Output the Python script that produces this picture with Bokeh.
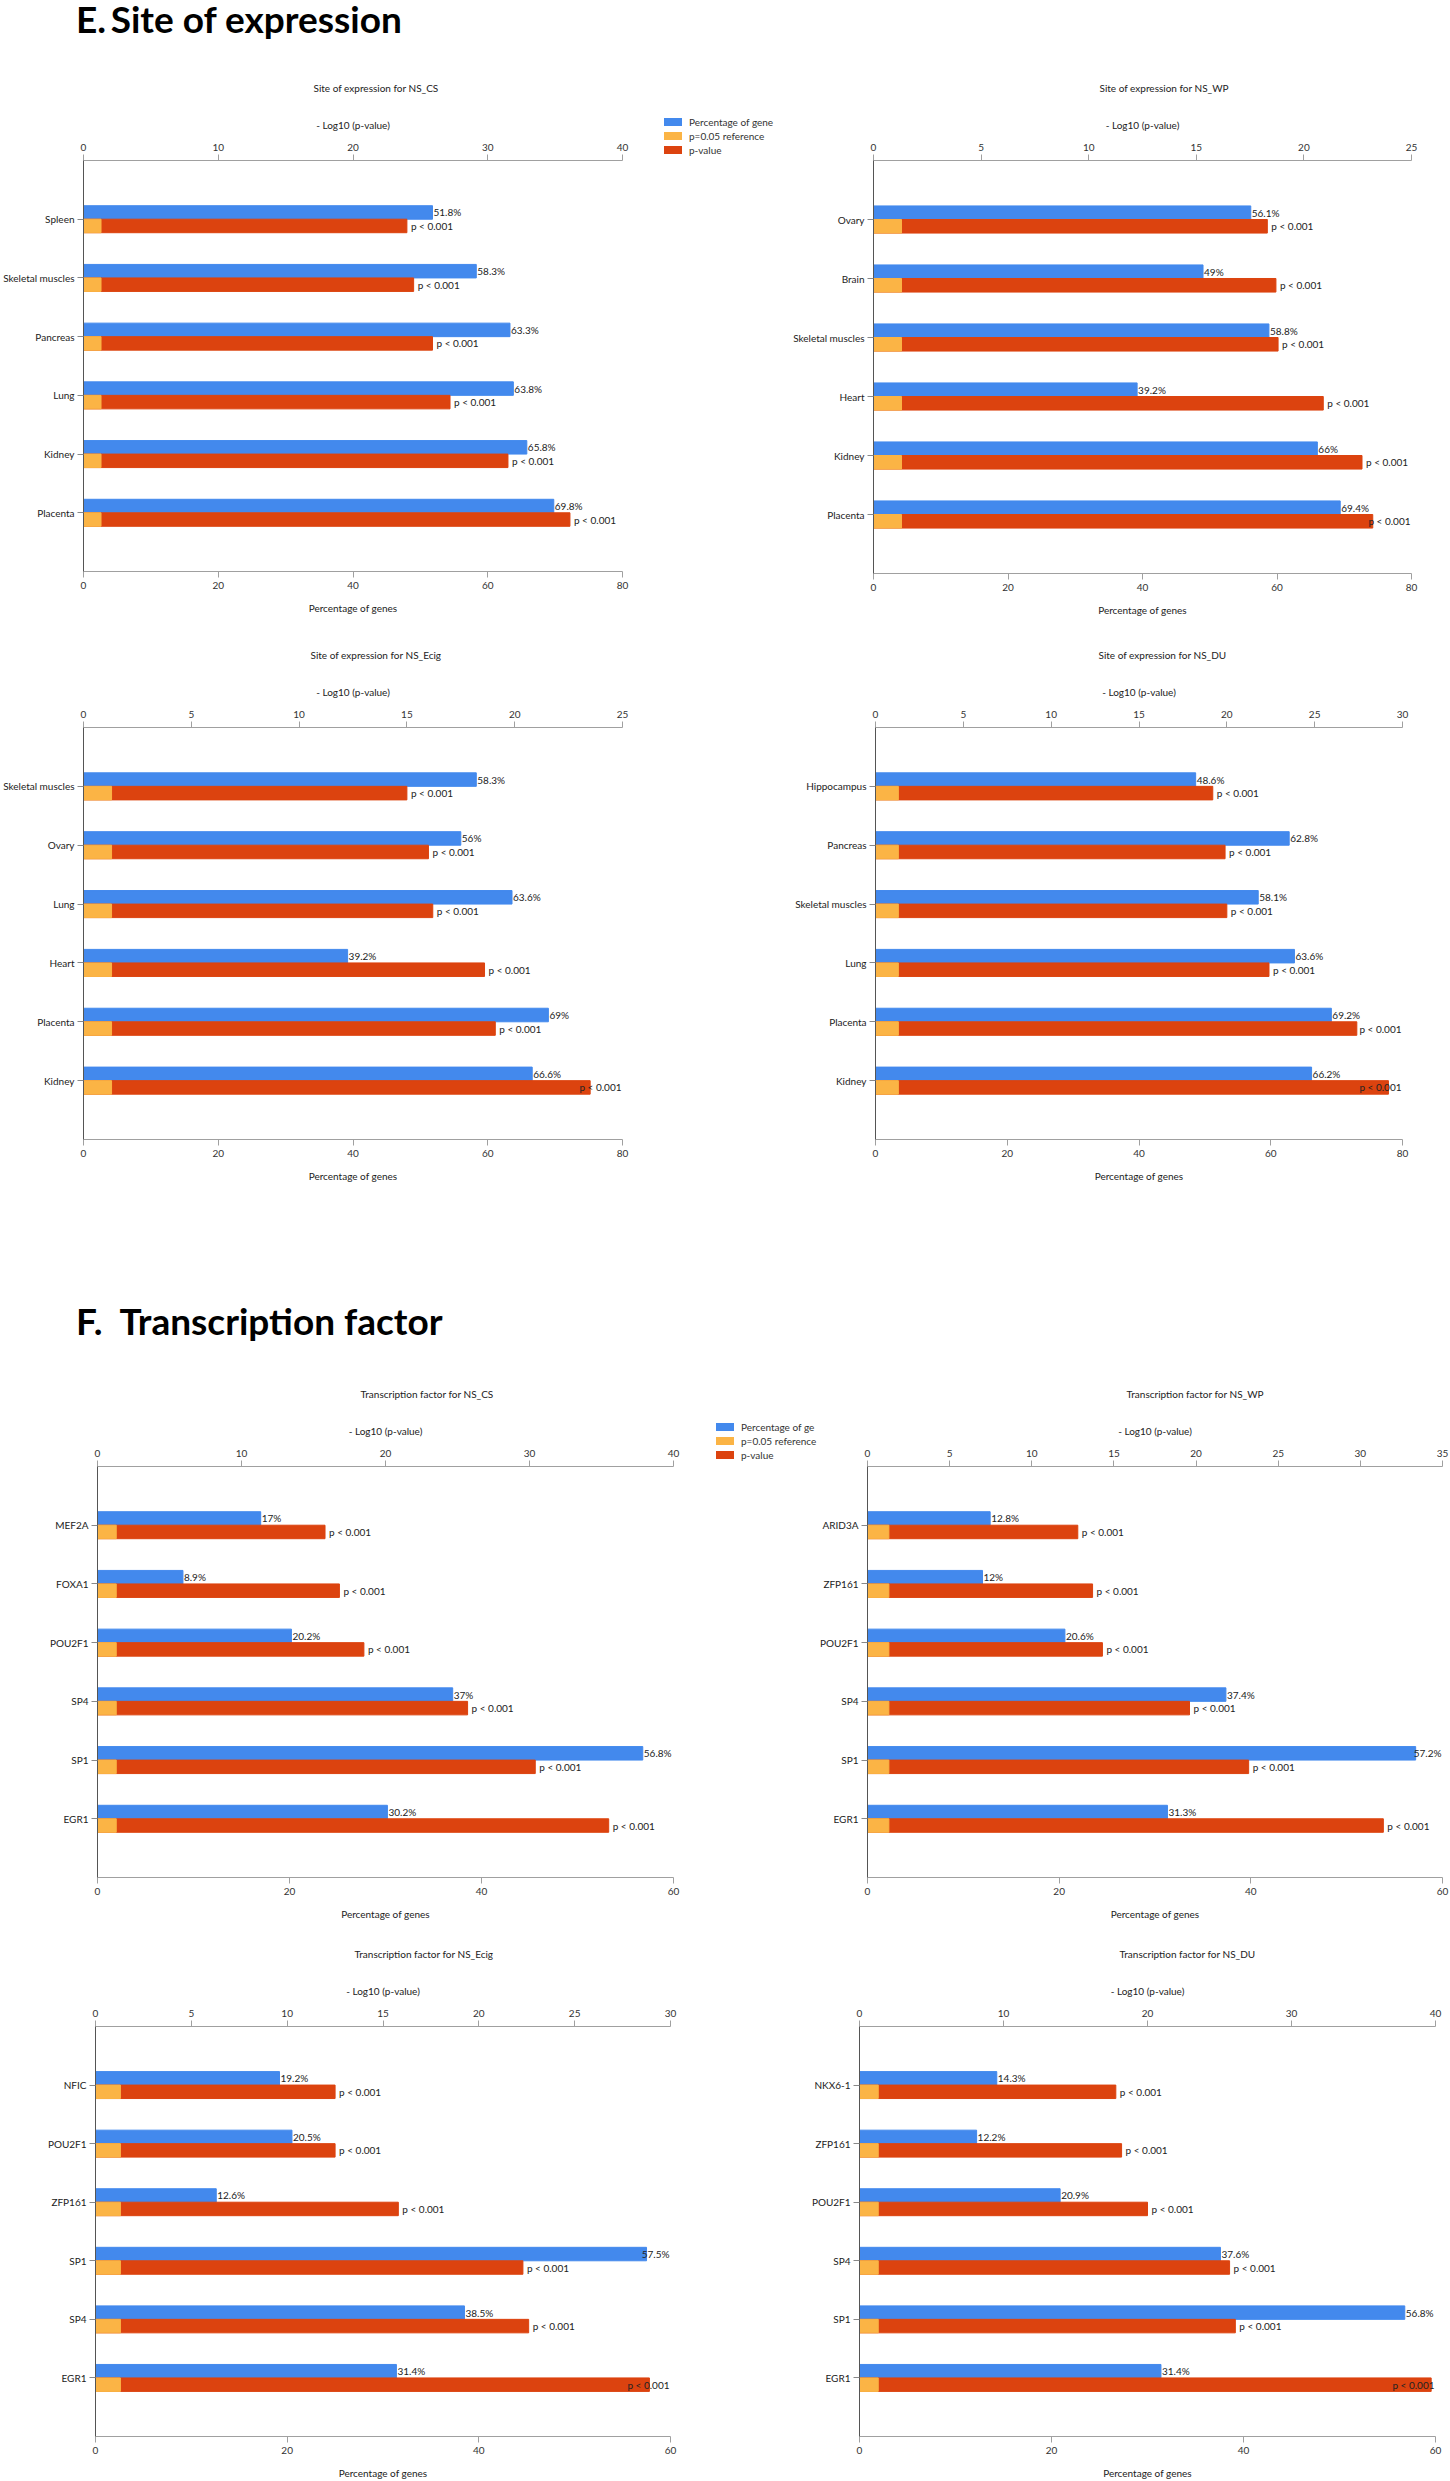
from bokeh.plotting import figure
from bokeh.models import (Range1d, FactorRange, LinearAxis, FixedTicker, ColumnDataSource, Div)
from bokeh.transform import dodge
from bokeh.layouts import column, row
from bokeh.core.properties import value
from bokeh.embed import file_html
from bokeh.resources import INLINE

FONT = "Lato"
BLUE, ORANGE, RED = "#4389ED", "#FBB445", "#DC430F"
P_REF = 1.301  # -log10(0.05)
P_LABEL = "p < 0.001"
LEGEND_LABELS_A = ["Percentage of gene", "p=0.05 reference", "p-value"]
LEGEND_LABELS_C = ["Percentage of ge", "p=0.05 reference", "p-value"]

# ---------------- E. Site of expression ----------------
site_cs_cats = ["Spleen", "Skeletal muscles", "Pancreas", "Lung", "Kidney", "Placenta"]
site_cs_pct = [51.8, 58.3, 63.3, 63.8, 65.8, 69.8]
site_cs_logp = [24.0, 24.5, 25.9, 27.2, 31.5, 36.1]
site_cs_pticks = [0, 10, 20, 30, 40]
site_cs_xticks = [0, 20, 40, 60, 80]

site_wp_cats = ["Ovary", "Brain", "Skeletal muscles", "Heart", "Kidney", "Placenta"]
site_wp_pct = [56.1, 49, 58.8, 39.2, 66, 69.4]
site_wp_logp = [18.3, 18.7, 18.8, 20.9, 22.7, 23.2]
site_wp_pticks = [0, 5, 10, 15, 20, 25]
site_wp_xticks = [0, 20, 40, 60, 80]

site_ecig_cats = ["Skeletal muscles", "Ovary", "Lung", "Heart", "Placenta", "Kidney"]
site_ecig_pct = [58.3, 56, 63.6, 39.2, 69, 66.6]
site_ecig_logp = [15.0, 16.0, 16.2, 18.6, 19.1, 23.5]
site_ecig_pticks = [0, 5, 10, 15, 20, 25]
site_ecig_xticks = [0, 20, 40, 60, 80]

site_du_cats = ["Hippocampus", "Pancreas", "Skeletal muscles", "Lung", "Placenta", "Kidney"]
site_du_pct = [48.6, 62.8, 58.1, 63.6, 69.2, 66.2]
site_du_logp = [19.2, 19.9, 20.0, 22.4, 27.4, 29.2]
site_du_pticks = [0, 5, 10, 15, 20, 25, 30]
site_du_xticks = [0, 20, 40, 60, 80]

# ---------------- F. Transcription factor ----------------
tf_cs_cats = ["MEF2A", "FOXA1", "POU2F1", "SP4", "SP1", "EGR1"]
tf_cs_pct = [17, 8.9, 20.2, 37, 56.8, 30.2]
tf_cs_logp = [15.8, 16.8, 18.5, 25.7, 30.4, 35.5]
tf_cs_pticks = [0, 10, 20, 30, 40]
tf_cs_xticks = [0, 20, 40, 60]

tf_wp_cats = ["ARID3A", "ZFP161", "POU2F1", "SP4", "SP1", "EGR1"]
tf_wp_pct = [12.8, 12, 20.6, 37.4, 57.2, 31.3]
tf_wp_logp = [12.8, 13.7, 14.3, 19.6, 23.2, 31.4]
tf_wp_pticks = [0, 5, 10, 15, 20, 25, 30, 35]
tf_wp_xticks = [0, 20, 40, 60]

tf_ecig_cats = ["NFIC", "POU2F1", "ZFP161", "SP1", "SP4", "EGR1"]
tf_ecig_pct = [19.2, 20.5, 12.6, 57.5, 38.5, 31.4]
tf_ecig_logp = [12.5, 12.5, 15.8, 22.3, 22.6, 28.9]
tf_ecig_pticks = [0, 5, 10, 15, 20, 25, 30]
tf_ecig_xticks = [0, 20, 40, 60]

tf_du_cats = ["NKX6-1", "ZFP161", "POU2F1", "SP4", "SP1", "EGR1"]
tf_du_pct = [14.3, 12.2, 20.9, 37.6, 56.8, 31.4]
tf_du_logp = [17.8, 18.2, 20.0, 25.7, 26.1, 39.7]
tf_du_pticks = [0, 10, 20, 30, 40]
tf_du_xticks = [0, 20, 40, 60]

PCT_LABEL_W = 30   # approx. pixel width of "57.5%" at 10px
P_LABEL_W = 46     # approx. pixel width of "p < 0.001" + gap


def style_axis(ax, label, line_color="#A0A0A0"):
    ax.axis_label = label
    ax.axis_line_color = line_color
    ax.major_tick_line_color = line_color
    ax.major_tick_out = 6
    ax.major_tick_in = 0
    ax.minor_tick_line_color = None
    ax.major_label_text_font = FONT
    ax.major_label_text_font_size = "10px"
    ax.major_label_text_color = "#333333"
    ax.major_label_standoff = 4
    ax.axis_label_text_font = FONT
    ax.axis_label_text_font_size = "10px"
    ax.axis_label_text_font_style = "normal"
    ax.axis_label_text_color = "#222222"
    ax.axis_label_standoff = 10


def panel(title, cats, pct, logp, xticks, pticks, geo):
    bl, fw, br, bt, fh, bb, toff = geo
    pmax = pticks[-1]
    xmax = xticks[-1]
    n = len(cats)
    # labels that would run past the plot frame are right-aligned at its edge
    p_over = [v / pmax * fw + P_LABEL_W > fw for v in logp]
    b_over = [v / xmax * fw + PCT_LABEL_W > fw for v in pct]
    src = ColumnDataSource(dict(
        cat=cats, pct=pct, logp=logp, ref=[P_REF] * n,
        pct_lbl=[f"{v:g}%" for v in pct],
        pct_x=[xmax if o else v for o, v in zip(b_over, pct)],
        pct_align=["right" if o else "left" for o in b_over],
        pct_off=[-1 if o else 1 for o in b_over],
        p_lbl=[P_LABEL] * n,
        p_x=[pmax if o else v for o, v in zip(p_over, logp)],
        p_align=["right" if o else "left" for o in p_over],
        p_off=[-1 if o else 4 for o in p_over],
    ))
    p = figure(frame_width=fw, frame_height=fh,
               min_border_left=bl, min_border_right=br, min_border_top=bt, min_border_bottom=bb,
               x_range=Range1d(0, xmax),
               y_range=FactorRange(factors=list(reversed(cats)), range_padding=0.5,
                                   range_padding_units="absolute"),
               output_backend="svg", toolbar_location=None, title=title)
    p.extra_x_ranges = {"p": Range1d(0, pmax)}
    p.xgrid.visible = False
    p.ygrid.visible = False
    p.outline_line_color = None

    up = dodge("cat", 0.115, range=p.y_range)
    dn = dodge("cat", -0.115, range=p.y_range)
    p.hbar(y=up, left=0, right="pct", height=0.23, color=BLUE, source=src)
    p.hbar(y=dn, left=0, right="logp", height=0.23, color=RED, x_range_name="p", source=src)
    p.hbar(y=dn, left=0, right="ref", height=0.23, color=ORANGE, x_range_name="p", source=src)
    p.text(x="pct_x", y=up, text="pct_lbl", x_offset="pct_off", text_align="pct_align",
           text_baseline="middle", text_font=value(FONT), text_font_size="10px",
           text_color="#222222", source=src)
    p.text(x="p_x", y=dn, text="p_lbl", x_offset="p_off", text_align="p_align",
           text_baseline="middle", text_font=value(FONT), text_font_size="10px",
           text_color="#222222", x_range_name="p", source=src)

    style_axis(p.xaxis[0], "Percentage of genes")
    p.xaxis[0].ticker = FixedTicker(ticks=xticks)
    top = LinearAxis(x_range_name="p", ticker=FixedTicker(ticks=pticks))
    style_axis(top, "- Log10 (p-value)")
    p.add_layout(top, "above")

    ya = p.yaxis[0]
    ya.axis_line_color = "#555555"
    ya.major_tick_line_color = "#888888"
    ya.major_tick_out = 6
    ya.major_tick_in = 0
    ya.major_label_standoff = 3
    ya.major_label_text_font = FONT
    ya.major_label_text_font_size = "10px"
    ya.major_label_text_color = "#222222"

    p.title.text_font = FONT
    p.title.text_font_size = "10px"
    p.title.text_font_style = "normal"
    p.title.text_color = "#222222"
    p.title.align = "left"
    p.title.offset = toff
    p.title.standoff = 44
    return p


def legend_div(labels, width, height, pad_top, pad_left):
    rows = "".join(
        f'<div style="display:flex;align-items:center;height:14px;white-space:nowrap;">'
        f'<span style="display:inline-block;width:18px;height:8px;background:{c};'
        f'margin-right:7px;"></span>{l}</div>'
        for l, c in zip(labels, (BLUE, ORANGE, RED)))
    html = (f'<div style="padding-top:{pad_top}px;padding-left:{pad_left}px;'
            f'font-family:Lato;font-size:10px;color:#333333;line-height:14px;">{rows}</div>')
    return Div(text=html, width=width, height=height, margin=0)


# geometry: (border_left, frame_w, border_right, border_top, frame_h, border_bottom, title_offset)
p1 = panel("Site of expression for NS_CS", site_cs_cats, site_cs_pct, site_cs_logp,
           site_cs_xticks, site_cs_pticks, (82, 539, 20, 115, 411, 49, 230))
lgA = legend_div(LEGEND_LABELS_A, 139, 575, 70, 22)
p2 = panel("Site of expression for NS_WP", site_wp_cats, site_wp_pct, site_wp_logp,
           site_wp_xticks, site_wp_pticks, (92, 538, 40, 109, 413, 53, 226))
p3 = panel("Site of expression for NS_Ecig", site_ecig_cats, site_ecig_pct, site_ecig_logp,
           site_ecig_xticks, site_ecig_pticks, (82, 539, 104, 107, 412, 163, 227))
p4 = panel("Site of expression for NS_DU", site_du_cats, site_du_pct, site_du_logp,
           site_du_xticks, site_du_pticks, (149, 527, 49, 107, 412, 163, 223))
p5 = panel("Transcription factor for NS_CS", tf_cs_cats, tf_cs_pct, tf_cs_logp,
           tf_cs_xticks, tf_cs_pticks, (97, 576, 20, 121, 411, 45, 263))
lgC = legend_div(LEGEND_LABELS_C, 123, 577, 75, 23)
p6 = panel("Transcription factor for NS_WP", tf_wp_cats, tf_wp_pct, tf_wp_logp,
           tf_wp_xticks, tf_wp_pticks, (50, 575, 9, 121, 411, 45, 259))
p7 = panel("Transcription factor for NS_Ecig", tf_ecig_cats, tf_ecig_pct, tf_ecig_logp,
           tf_ecig_xticks, tf_ecig_pticks, (95, 575, 55, 104, 410, 45, 259))
p8 = panel("Transcription factor for NS_DU", tf_du_cats, tf_du_pct, tf_du_logp,
           tf_du_xticks, tf_du_pticks, (134, 576, 15, 104, 410, 45, 260))

HSTYLE = ("font-family:Lato;font-weight:bold;font-size:37px;line-height:37px;"
          "padding-left:76px;white-space:nowrap;color:#000000;")
divE = Div(text=f'<div style="{HSTYLE}">E.&#8201;Site of expression</div>',
           width=1450, height=45, margin=0)
divF = Div(text=f'<div style="{HSTYLE}">F.&nbsp;&nbsp;Transcription factor</div>',
           width=1450, height=43, margin=0)

page = column(divE, row(p1, lgA, p2, spacing=0), row(p3, p4, spacing=0), divF,
              row(p5, lgC, p6, spacing=0), row(p7, p8, spacing=0), spacing=0)

open("out.html", "w").write(file_html(page, INLINE, title="Site of expression and transcription factor"))
